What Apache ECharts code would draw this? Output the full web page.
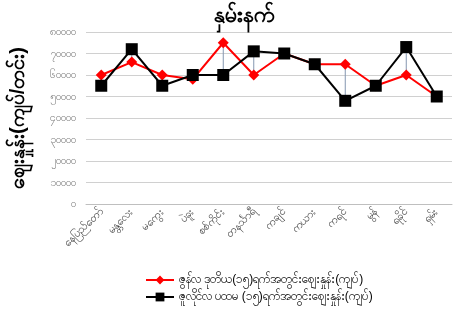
<!DOCTYPE html>
<html>
<head>
<meta charset="utf-8">
<script src="https://cdn.jsdelivr.net/npm/echarts@6/dist/echarts.min.js"></script>
<style>
  html, body { margin: 0; padding: 0; background: #fff; }
  #main { width: 467px; height: 318px; }
</style>
</head>
<body>
<div id="main"></div>
<script>
var regions = ['နေပြည်တော်', 'မန္တလေး', 'မကွေး', 'ပဲခူး', 'စစ်ကိုင်း', 'တနင်္သာရီ', 'ကချင်', 'ကယား', 'ကရင်', 'မွန်', 'ရခိုင်', 'ရှမ်း'];
var juneValues = [60000, 66000, 60000, 58000, 75000, 60000, 70000, 65000, 65000, 55000, 60000, 50000];
var julyValues = [55000, 72000, 55000, 60000, 60000, 71000, 70000, 65000, 48000, 55000, 73000, 50000];
var myDigits = ['၀', '၁', '၂', '၃', '၄', '၅', '၆', '၇', '၈', '၉'];
var juneName = 'ဇွန်လ ဒုတိယ(၁၅)ရက်အတွင်းဈေးနှုန်း(ကျပ်)';
var julyName = 'ဇူလိုင်လ ပထမ (၁၅)ရက်အတွင်းဈေးနှုန်း(ကျပ်)';

function toMyanmar(n) {
  return String(n).replace(/[0-9]/g, function (d) { return myDigits[+d]; });
}

var chart = echarts.init(document.getElementById('main'));
chart.setOption({
  animation: false,
  title: {
    text: 'နှမ်းနက်',
    left: 239, top: 1, textAlign: 'center',
    textStyle: { fontSize: 21, fontWeight: 'bold', color: '#000' }
  },
  legend: {
    orient: 'vertical',
    left: 140, top: 269,
    itemGap: 5, itemWidth: 28, itemHeight: 11,
    textStyle: { fontSize: 12, color: '#000' },
    data: [juneName, julyName]
  },
  grid: { left: 86, right: 15, top: 32, bottom: 114 },
  xAxis: {
    type: 'category',
    data: regions,
    boundaryGap: true,
    axisLine: { lineStyle: { color: '#bfbfbf' } },
    axisTick: { show: false },
    axisLabel: { rotate: 45, fontSize: 11, color: '#404040', interval: 0, margin: 6 }
  },
  yAxis: {
    type: 'value',
    min: 0, max: 80000, interval: 10000,
    name: 'ဈေးနှုန်း(ကျပ်/တင်း)',
    nameLocation: 'middle', nameGap: 58,
    nameTextStyle: { fontSize: 20, fontWeight: 'bold', color: '#000' },
    axisLine: { show: false },
    axisTick: { show: false },
    splitLine: { lineStyle: { color: '#d0d0d0' } },
    axisLabel: {
      fontSize: 11, color: '#7f7f7f', margin: 10,
      formatter: function (v) { return toMyanmar(v); }
    }
  },
  series: [
    {
      type: 'custom',
      silent: true,
      data: juneValues.map(function (v, i) { return [i, v, julyValues[i]]; }),
      renderItem: function (params, api) {
        var a = api.coord([api.value(0), api.value(1)]);
        var b = api.coord([api.value(0), api.value(2)]);
        return {
          type: 'line',
          shape: { x1: a[0], y1: a[1], x2: b[0], y2: b[1] },
          style: { stroke: '#8497b0', lineWidth: 1 }
        };
      },
      z: 1
    },
    {
      name: juneName,
      type: 'line',
      data: juneValues,
      symbol: 'diamond',
      symbolSize: 11,
      itemStyle: { color: '#ff0000' },
      lineStyle: { color: '#ff0000', width: 2 },
      z: 2
    },
    {
      name: julyName,
      type: 'line',
      data: julyValues,
      symbol: 'rect',
      symbolSize: 12,
      itemStyle: { color: '#000' },
      lineStyle: { color: '#000', width: 2 },
      z: 3
    }
  ]
});
</script>
</body>
</html>
